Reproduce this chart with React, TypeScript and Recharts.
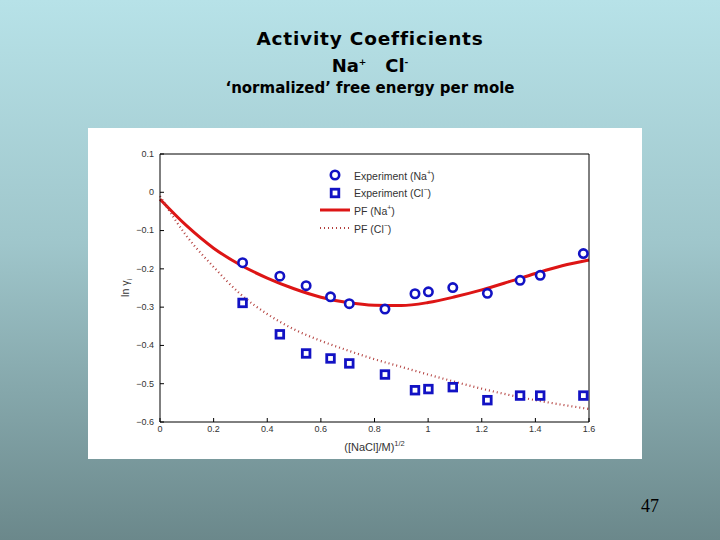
import React from "react";
import { ComposedChart, Line, Scatter, XAxis, YAxis, Legend, Label } from "recharts";

// values
const expX = [0.308, 0.447, 0.545, 0.636, 0.706, 0.839, 0.951, 1.001, 1.092, 1.221, 1.343, 1.418, 1.579];
const expNa = [-0.184, -0.219, -0.244, -0.273, -0.291, -0.305, -0.265, -0.26, -0.249, -0.264, -0.23, -0.217, -0.16];
const expCl = [-0.289, -0.371, -0.421, -0.434, -0.447, -0.476, -0.517, -0.514, -0.509, -0.543, -0.531, -0.531, -0.531];

const pfX = [0, 0.1, 0.2, 0.3, 0.4, 0.5, 0.6, 0.7, 0.8, 0.9, 1.0, 1.1, 1.2, 1.3, 1.4, 1.5, 1.6];
const pfNa = [-0.018, -0.088, -0.146, -0.19, -0.224, -0.252, -0.274, -0.288, -0.295, -0.296, -0.288, -0.273, -0.255, -0.234, -0.212, -0.192, -0.177];
const pfCl = [-0.01, -0.115, -0.195, -0.266, -0.318, -0.358, -0.388, -0.413, -0.436, -0.456, -0.476, -0.495, -0.513, -0.529, -0.543, -0.555, -0.566];

const xTicks = [0, 0.2, 0.4, 0.6, 0.8, 1, 1.2, 1.4, 1.6];
const yTicks = [0.1, 0, -0.1, -0.2, -0.3, -0.4, -0.5, -0.6];

const naPts = expX.map((x, i) => ({ x, y: expNa[i] }));
const clPts = expX.map((x, i) => ({ x, y: expCl[i] }));
const naLine = pfX.map((x, i) => ({ x, y: pfNa[i] }));
const clLine = pfX.map((x, i) => ({ x, y: pfCl[i] }));

const BLUE = "#1212c4";
const RED = "#dd1515";
const DOT_RED = "#b3403e";
const tickFont = { fontFamily: "Liberation Sans, Arial, sans-serif", fontSize: 9, fill: "#333" };

const fmt = (v: number) => (v < 0 ? "\u2212" + Math.abs(v) : String(v));

const BottomTick = (props: any) => {
  const { x, y, payload } = props;
  const axisY = y - 4;
  return (
    <g>
      <line x1={x} y1={axisY} x2={x} y2={axisY - 4} stroke="#000" />
      <text x={x} y={y} dy="0.71em" textAnchor="middle" {...tickFont}>
        {fmt(payload.value)}
      </text>
    </g>
  );
};

const LeftTick = (props: any) => {
  const { x, y, payload } = props;
  const axisX = x + 6;
  return (
    <g>
      <line x1={axisX} y1={y} x2={axisX + 4} y2={y} stroke="#000" />
      <text x={x} y={y} dy="0.32em" textAnchor="end" {...tickFont}>
        {fmt(payload.value)}
      </text>
    </g>
  );
};

const TopTick = (props: any) => {
  const { x, y } = props;
  return <line x1={x} y1={y} x2={x} y2={y + 4} stroke="#000" />;
};

const RightTick = (props: any) => {
  const { x, y } = props;
  return <line x1={x - 4} y1={y} x2={x} y2={y} stroke="#000" />;
};

const CircleMark = (props: any) => (
  <circle cx={props.cx} cy={props.cy} r={4.2} fill="#fff" stroke={BLUE} strokeWidth={2.6} />
);

const SquareMark = (props: any) => (
  <rect x={props.cx - 3.8} y={props.cy - 3.8} width={7.6} height={7.6} fill="#fff" stroke={BLUE} strokeWidth={2.8} />
);

const legendItems = [
  { label: "Experiment (Na", sup: "+", kind: "circle" },
  { label: "Experiment (Cl", sup: "\u2212", kind: "square" },
  { label: "PF (Na", sup: "+", kind: "solid" },
  { label: "PF (Cl", sup: "\u2212", kind: "dotted" },
];

const LegendBox = () => (
  <div style={{ fontFamily: "Liberation Sans, Arial, sans-serif", fontSize: 10.5, color: "#333" }}>
    {legendItems.map((it) => (
      <div key={it.label + it.kind} style={{ display: "flex", alignItems: "center", height: 17.7 }}>
        <svg width={36} height={14} style={{ display: "block" }}>
          {it.kind === "circle" && <circle cx={17} cy={7} r={4.2} fill="#fff" stroke={BLUE} strokeWidth={2.6} />}
          {it.kind === "square" && <rect x={13.2} y={3.2} width={7.6} height={7.6} fill="#fff" stroke={BLUE} strokeWidth={2.8} />}
          {it.kind === "solid" && <line x1={2} y1={7} x2={32} y2={7} stroke={RED} strokeWidth={3} />}
          {it.kind === "dotted" && (
            <line x1={2} y1={7} x2={32} y2={7} stroke={DOT_RED} strokeWidth={2.2} strokeDasharray="1 3" />
          )}
        </svg>
        <span>
          {it.label}
          <sup style={{ fontSize: 7 }}>{it.sup}</sup>)
        </span>
      </div>
    ))}
  </div>
);

const YLabel = (props: any) => {
  const vb = props.viewBox;
  const cx = vb.x + 41;
  const cy = vb.y + vb.height / 2;
  return (
    <text
      transform={`translate(${cx},${cy}) rotate(-90)`}
      textAnchor="middle"
      fontFamily="Liberation Sans, Arial, sans-serif"
      fontSize={10.5}
      fill="#333"
    >
      ln γ
      <tspan fontSize={7} dy={3}>
        i
      </tspan>
    </text>
  );
};

const XLabel = (props: any) => {
  const vb = props.viewBox;
  return (
    <text
      x={vb.x + vb.width / 2}
      y={vb.y + 29}
      textAnchor="middle"
      fontFamily="Liberation Sans, Arial, sans-serif"
      fontSize={11}
      fill="#333"
    >
      ([NaCl]/M)
      <tspan fontSize={7.5} dy={-5}>
        1/2
      </tspan>
    </text>
  );
};

export default function App() {
  return (
    <div
      style={{
        position: "absolute",
        left: 0,
        top: 0,
        width: 720,
        height: 540,
        background: "linear-gradient(to bottom, #b7e2e8 0%, #9fc6cb 45%, #6b888b 100%)",
        overflow: "hidden",
      }}
    >
      <div
        style={{
          position: "absolute",
          left: 170,
          width: 400,
          top: 27,
          textAlign: "center",
          fontFamily: "DejaVu Sans, Verdana, sans-serif",
          fontWeight: 700,
          color: "#000",
        }}
      >
        <div style={{ fontSize: 18.5, lineHeight: "24px", letterSpacing: 0.8 }}>Activity Coefficients</div>
        <div style={{ fontSize: 18, lineHeight: "23px" }}>
          Na<sup style={{ fontSize: 9 }}>+</sup>&nbsp;&nbsp; Cl<sup style={{ fontSize: 9 }}>-</sup>
        </div>
        <div style={{ fontSize: 15, lineHeight: "22px" }}>‘normalized’ free energy per mole</div>
      </div>

      <div style={{ position: "absolute", left: 88, top: 128, width: 554, height: 331, background: "#fff" }}>
        <ComposedChart width={554} height={331} margin={{ top: 0, right: 0, bottom: 0, left: 0 }}>
          <XAxis
            dataKey="x"
            type="number"
            domain={[0, 1.6]}
            ticks={xTicks}
            height={37}
            tickSize={0}
            tickMargin={4}
            tickLine={false}
            axisLine={{ stroke: "#000" }}
            tick={BottomTick}
            interval={0}
          >
            <Label content={XLabel} />
          </XAxis>
          <XAxis
            xAxisId="top"
            orientation="top"
            dataKey="x"
            type="number"
            domain={[0, 1.6]}
            ticks={xTicks}
            height={26}
            tickSize={0}
            tickMargin={0}
            tickLine={false}
            axisLine={{ stroke: "#000" }}
            tick={TopTick}
            interval={0}
          />
          <YAxis
            dataKey="y"
            type="number"
            domain={[-0.6, 0.1]}
            ticks={yTicks}
            width={72}
            tickSize={0}
            tickMargin={6}
            tickLine={false}
            axisLine={{ stroke: "#000" }}
            tick={LeftTick}
            interval={0}
          >
            <Label content={YLabel} />
          </YAxis>
          <YAxis
            yAxisId="right"
            orientation="right"
            type="number"
            domain={[-0.6, 0.1]}
            ticks={yTicks}
            width={53}
            tickSize={0}
            tickMargin={0}
            tickLine={false}
            axisLine={{ stroke: "#000" }}
            tick={RightTick}
            interval={0}
          />
          <Legend
            layout="vertical"
            align="center"
            verticalAlign="middle"
            content={LegendBox}
            wrapperStyle={{ left: 230, top: 38, width: 150, height: 72 }}
          />
          <Line
            data={naLine}
            dataKey="y"
            type="monotone"
            stroke={RED}
            strokeWidth={3}
            dot={false}
            activeDot={false}
            isAnimationActive={false}
          />
          <Line
            data={clLine}
            dataKey="y"
            type="monotone"
            stroke={DOT_RED}
            strokeWidth={2.2}
            strokeDasharray="1 3"
            dot={false}
            activeDot={false}
            isAnimationActive={false}
          />
          <Scatter data={naPts} dataKey="y" shape={CircleMark} isAnimationActive={false} />
          <Scatter data={clPts} dataKey="y" shape={SquareMark} isAnimationActive={false} />
        </ComposedChart>
      </div>

      <div
        style={{
          position: "absolute",
          left: 620,
          width: 60,
          top: 496,
          textAlign: "center",
          fontFamily: "Liberation Serif, Times New Roman, serif",
          fontSize: 18,
          color: "#000",
        }}
      >
        47
      </div>
    </div>
  );
}
